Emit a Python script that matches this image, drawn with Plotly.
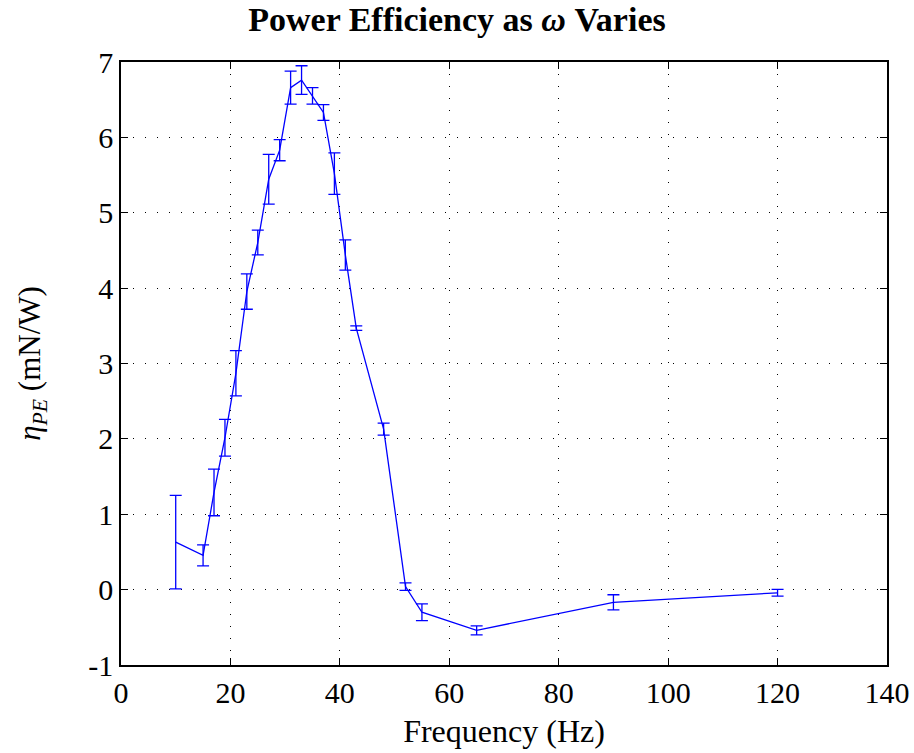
import plotly.graph_objects as go

freq = [10, 15, 17, 19, 21, 23, 25, 27, 29, 31, 33, 35, 37, 39, 41, 43, 48, 52, 55, 65, 90, 120]
eta = [0.63, 0.455, 1.29, 2.015, 2.87, 3.955, 4.605, 5.445, 5.83, 6.66, 6.76, 6.55, 6.33, 5.52, 4.44, 3.47, 2.13, 0.04, -0.30, -0.54, -0.168, -0.042]
err = [0.62, 0.14, 0.31, 0.245, 0.30, 0.235, 0.165, 0.33, 0.14, 0.22, 0.19, 0.11, 0.105, 0.275, 0.20, 0.03, 0.08, 0.05, 0.11, 0.06, 0.10, 0.045]

x_ticks = [0, 20, 40, 60, 80, 100, 120, 140]
y_ticks = [-1, 0, 1, 2, 3, 4, 5, 6, 7]

FONT = "Liberation Serif"

fig = go.Figure()
fig.add_trace(go.Scatter(
    x=freq, y=eta, mode="lines",
    line=dict(color="#0000ff", width=1.3),
    error_y=dict(type="data", array=err, visible=True, color="#0000ff", thickness=1.3, width=6),
    showlegend=False,
))

axis_common = dict(
    showline=True, linecolor="black", linewidth=1.5, mirror="ticks",
    ticks="inside", ticklen=7, tickcolor="black", tickwidth=1,
    showgrid=True, gridcolor="black", gridwidth=1, griddash="1px,11px",
    zeroline=False, automargin=False,
    tickfont=dict(family=FONT, size=30, color="black"),
)

fig.update_xaxes(range=[0, 140], tickvals=x_ticks, ticktext=[str(v) for v in x_ticks],
                 title=dict(text="Frequency (Hz)", font=dict(family=FONT, size=32, color="black"), standoff=12),
                 **axis_common)
fig.update_yaxes(range=[-1, 7], tickvals=y_ticks, ticktext=[str(v) for v in y_ticks],
                 title=dict(text="<i>η</i><sub><i>PE</i></sub> (mN/W)", font=dict(family=FONT, size=31, color="black"), standoff=38),
                 **axis_common)

fig.update_layout(
    width=914, height=753,
    margin=dict(l=121, r=27, t=62, b=88, autoexpand=False),
    paper_bgcolor="white", plot_bgcolor="white",
    title=dict(text="<b>Power Efficiency as <i>ω</i> Varies</b>", x=0.5, xanchor="center",
               y=0.99, yanchor="top",
               font=dict(family=FONT, size=34, color="black")),
)

fig.write_html("out.html")
